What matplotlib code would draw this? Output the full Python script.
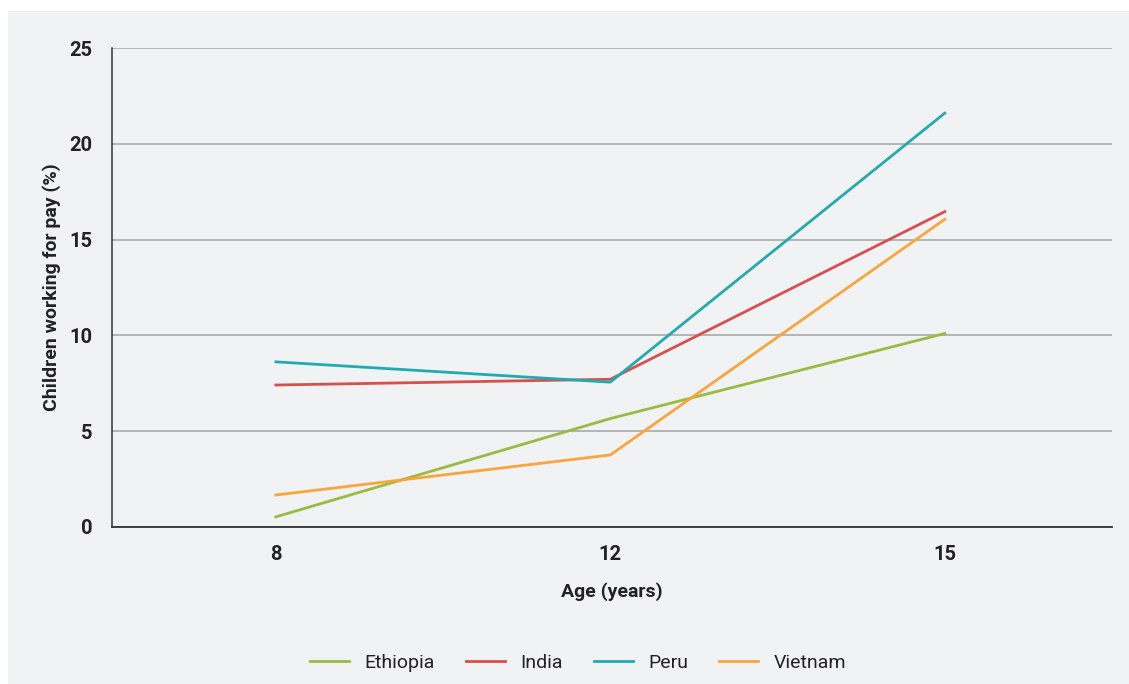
import numpy as np
import matplotlib.pyplot as plt
from matplotlib.patches import Rectangle

ages = ['8', '12', '15']
ethiopia = [0.53, 5.66, 10.1]
india = [7.41, 7.71, 16.46]
peru = [8.62, 7.56, 21.6]
vietnam = [1.67, 3.76, 16.06]

series = [('Ethiopia', ethiopia, '#9cba42'),
          ('India', india, '#d6504d'),
          ('Peru', peru, '#22abae'),
          ('Vietnam', vietnam, '#f9a53c')]

plt.rcParams['font.family'] = ['Roboto', 'DejaVu Sans']

bg = '#f1f2f4'
fig = plt.figure(figsize=(11.29, 6.84), dpi=100)
fig.patch.set_facecolor('white')
# grey panel with a thin white margin at top and left
fig.patches.append(Rectangle((8 / 1129, 0), 1 - 8 / 1129, 1 - 11 / 684,
                             transform=fig.transFigure, facecolor=bg,
                             edgecolor='none', zorder=-5))

ax = fig.add_axes([112 / 1129, 157 / 684, 1000 / 1129, 479 / 684])
ax.set_zorder(2)
ax.set_facecolor(bg)

x = np.arange(len(ages))
for name, vals, col in series:
    ax.plot(x, vals, color=col, linewidth=2.0, label=name, zorder=3)

ax.set_xlim(-0.49, 2.5)
ax.set_ylim(0, 25)
ax.set_yticks([0, 5, 10, 15, 20, 25])
ax.set_xticks(x)
ax.set_xticklabels(ages)
ax.grid(axis='y', color='#a3a3a3', linewidth=1.1)
ax.set_axisbelow(True)
for s in ['top', 'right']:
    ax.spines[s].set_visible(False)
ax.spines['left'].set_color('#333333')
ax.spines['bottom'].set_color('#333333')
ax.spines['left'].set_linewidth(1.1)
ax.spines['bottom'].set_linewidth(1.3)
ax.tick_params(length=0, labelsize=14.5, colors='#222222')
ax.tick_params(axis='y', pad=14)
ax.tick_params(axis='x', pad=13)
for t in ax.get_xticklabels() + ax.get_yticklabels():
    t.set_fontweight('bold')

ax.set_xlabel('Age (years)', fontsize=14, fontweight='bold', color='#222222', labelpad=13)
ax.set_ylabel('Children working for pay (%)', fontsize=14, fontweight='bold', color='#222222', labelpad=6)

leg = fig.legend(loc='center', bbox_to_anchor=(578 / 1129, 1 - 663 / 684), ncol=4,
                 frameon=False, fontsize=14, handlelength=2.0, columnspacing=1.6,
                 handletextpad=0.8)
for t in leg.get_texts():
    t.set_color('#222222')

plt.savefig('out.png', dpi=100, facecolor='white')
